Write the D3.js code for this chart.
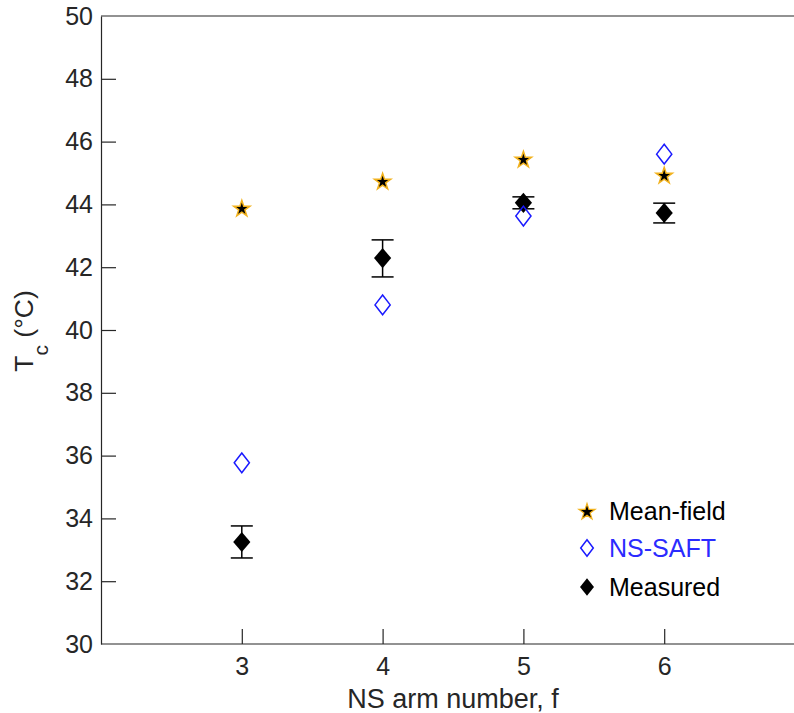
<!DOCTYPE html>
<html lang="en">
<head>
<meta charset="utf-8">
<title>Tc vs arm number</title>
<script src="https://d3js.org/d3.v7.min.js"></script>
<style>
  body { margin: 0; background: #fff; }
  svg { font-family: "Liberation Sans", Arial, sans-serif; }
  .axis path, .axis line { stroke: #262626; stroke-width: 1.2; }
  .axis text { fill: #262626; font-size: 25px; font-family: "Liberation Sans", Arial, sans-serif; }
</style>
</head>
<body>
<script>
// data
const armNumbers = [3, 4, 5, 6];
const meanField = [43.89, 44.75, 45.45, 44.94];
const nsSaft = [35.77, 40.8, 43.63, 45.6];
const measured = [33.25, 42.29, 44.05, 43.73];
const measuredHi = [33.76, 42.87, 44.24, 44.04];
const measuredLo = [32.74, 41.69, 43.86, 43.41];
const xTicks = [3, 4, 5, 6];
const yTicks = [30, 32, 34, 36, 38, 40, 42, 44, 46, 48, 50];

const w = 794, h = 713;
const padLeft = 101, padTop = 16, padBottom = 644;

const svg = d3.select("body").append("svg")
  .attr("width", w).attr("height", h);

const x = d3.scaleLinear().domain([2, 7]).range([padLeft, padLeft + 5 * 140.8]);
const y = d3.scaleLinear().domain([30, 50]).range([padBottom, padTop]);

// frame (top edge)
svg.append("line")
  .attr("x1", padLeft).attr("x2", w + 20)
  .attr("y1", padTop).attr("y2", padTop)
  .attr("stroke", "#262626").attr("stroke-width", 1.2);

const xAxis = d3.axisBottom(x).tickValues(xTicks).tickFormat(d3.format("d"))
  .tickSizeInner(-15).tickSizeOuter(0).tickPadding(13);
const yAxis = d3.axisLeft(y).tickValues(yTicks)
  .tickSizeInner(-15).tickSizeOuter(0).tickPadding(8);

const gx = svg.append("g").attr("class", "axis")
  .attr("transform", "translate(0," + padBottom + ")")
  .call(xAxis);
gx.select(".domain").attr("d", "M" + padLeft + ",0H" + (w + 20));
gx.selectAll(".tick text").attr("dy", "0.72em");

const gy = svg.append("g").attr("class", "axis")
  .attr("transform", "translate(" + padLeft + ",0)")
  .call(yAxis);
gy.selectAll(".tick line").filter(d => d === 30 || d === 50).remove();

// axis labels
svg.append("text")
  .attr("x", 453).attr("y", 708)
  .attr("text-anchor", "middle")
  .attr("fill", "#262626").attr("font-size", 27)
  .text("NS arm number, f");

const yl = svg.append("text")
  .attr("transform", "translate(33,331) rotate(-90)")
  .attr("text-anchor", "middle")
  .attr("fill", "#262626").attr("font-size", 26.5);
yl.append("tspan").text("T");
yl.append("tspan").attr("font-size", 21).attr("dy", 15).text("c");
yl.append("tspan").attr("dy", -15).text(" (°C)");

// symbols
const star = d3.symbol().type(d3.symbolStar).size(82);
const diamond = (s, r) => "M0," + (-s * r) + "L" + s + ",0L0," + (s * r) + "L" + (-s) + ",0Z";

// error bars
const eb = svg.append("g").attr("stroke", "#000").attr("stroke-width", 1.5);
armNumbers.forEach((f, i) => {
  const cx = x(f);
  eb.append("line").attr("x1", cx).attr("x2", cx).attr("y1", y(measuredHi[i])).attr("y2", y(measuredLo[i]));
  eb.append("line").attr("x1", cx - 11).attr("x2", cx + 11).attr("y1", y(measuredHi[i])).attr("y2", y(measuredHi[i]));
  eb.append("line").attr("x1", cx - 11).attr("x2", cx + 11).attr("y1", y(measuredLo[i])).attr("y2", y(measuredLo[i]));
});

svg.append("g").selectAll("path")
  .data(armNumbers)
  .join("path")
  .attr("transform", (d, i) => "translate(" + x(d) + "," + y(measured[i]) + ")")
  .attr("d", diamond(8.6, 1.17))
  .attr("fill", "#000");

svg.append("g").selectAll("path")
  .data(armNumbers)
  .join("path")
  .attr("transform", (d, i) => "translate(" + x(d) + "," + y(nsSaft[i]) + ")")
  .attr("d", diamond(7.6, 1.3))
  .attr("fill", "none").attr("stroke", "#1a1aff").attr("stroke-width", 1.5);

svg.append("g").selectAll("path")
  .data(armNumbers)
  .join("path")
  .attr("transform", (d, i) => "translate(" + x(d) + "," + (y(meanField[i]) + 1) + ")")
  .attr("d", star)
  .attr("fill", "#000").attr("stroke", "#f2b21d").attr("stroke-width", 1.5);

// legend
const lg = svg.append("g").attr("font-size", 25);
const rows = [
  { label: "Mean-field", color: "#000", y: 511 },
  { label: "NS-SAFT", color: "#2b2bff", y: 548 },
  { label: "Measured", color: "#000", y: 587 }
];
lg.append("path").attr("transform", "translate(587,512)").attr("d", star)
  .attr("fill", "#000").attr("stroke", "#f2b21d").attr("stroke-width", 1.2);
lg.append("path").attr("transform", "translate(587,548)").attr("d", diamond(6.3, 1.3))
  .attr("fill", "none").attr("stroke", "#1a1aff").attr("stroke-width", 1.5);
lg.append("path").attr("transform", "translate(587,587)").attr("d", diamond(7, 1.25))
  .attr("fill", "#000");
lg.selectAll("text").data(rows).join("text")
  .attr("x", 609).attr("y", d => d.y + 9)
  .attr("fill", d => d.color)
  .text(d => d.label);
</script>
</body>
</html>
